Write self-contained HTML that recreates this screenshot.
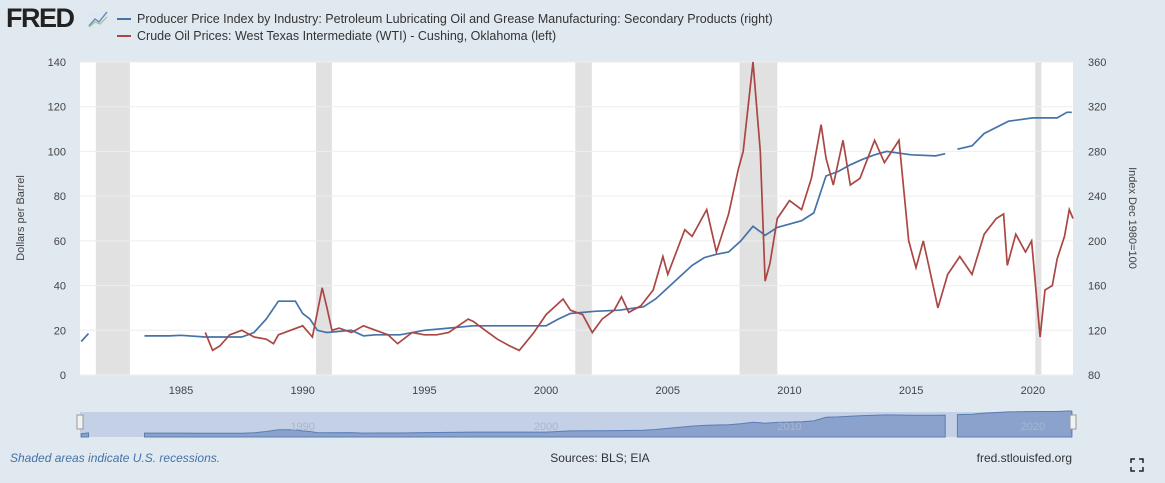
<!DOCTYPE html>
<html><head><meta charset="utf-8"><style>
body{margin:0;background:#e1e9f0;font-family:"Liberation Sans",sans-serif;}
svg{display:block}
text{font-family:"Liberation Sans",sans-serif;}
</style></head><body>
<svg id="c" width="1165" height="483">
<rect width="1165" height="483" fill="#e1e9f0"/>
<text x="6" y="27" font-size="27" font-weight="bold" fill="#222" letter-spacing="-1.5">FRED</text>
<g><rect x="88" y="11" width="20" height="17" fill="#dfe8f0"/><polyline points="89,26 95,19 99,22 107,12" fill="none" stroke="#6a8fc0" stroke-width="1.5"/><polyline points="89,27 95,22 100,24 107,17" fill="none" stroke="#9cc38c" stroke-width="1.2"/></g>
<line x1="117" y1="19" x2="131" y2="19" stroke="#4572a7" stroke-width="2"/>
<text x="137" y="23" font-size="12.5" fill="#333">Producer Price Index by Industry: Petroleum Lubricating Oil and Grease Manufacturing: Secondary Products (right)</text>
<line x1="117" y1="36" x2="131" y2="36" stroke="#aa4643" stroke-width="2"/>
<text x="137" y="40" font-size="12.5" fill="#333">Crude Oil Prices: West Texas Intermediate (WTI) - Cushing, Oklahoma (left)</text>
<rect x="80" y="62" width="993" height="313" fill="#fff"/>
<g id="rec"></g>
<g id="grid"></g>
<g id="axes"></g>
<g id="series"></g>
<text transform="translate(24,218) rotate(-90)" text-anchor="middle" font-size="11" fill="#444">Dollars per Barrel</text>
<text transform="translate(1129,218) rotate(90)" text-anchor="middle" font-size="11" fill="#444">Index Dec 1980=100</text>
<g id="nav"></g>
<text x="10" y="462" font-size="12" font-style="italic" fill="#4572a7">Shaded areas indicate U.S. recessions.</text>
<text x="600" y="462" font-size="12" fill="#333" text-anchor="middle">Sources: BLS; EIA</text>
<text x="1072" y="462" font-size="12" fill="#333" text-anchor="end">fred.stlouisfed.org</text>
<g stroke="#222" stroke-width="1.5" fill="none"><path d="M1131,463v-4h4M1139,459h4v4M1143,467v4h-4M1135,471h-4v-4"/></g>
</svg>
<script>
const leftTicks=[0,20,40,60,80,100,120,140];
const rightTicks=[80,120,160,200,240,280,320,360];
const yearTicks=[1985,1990,1995,2000,2005,2010,2015,2020];
const recessions=[[1981.5,1982.9],[1990.55,1991.2],[2001.2,2001.88],[2007.95,2009.5],[2020.1,2020.35]];
const wtiT=[1986.0,1986.3,1986.6,1987.0,1987.5,1988.0,1988.5,1988.8,1989.0,1989.5,1990.0,1990.4,1990.8,1991.0,1991.2,1991.5,1992.0,1992.5,1993.0,1993.5,1993.9,1994.5,1995.0,1995.5,1996.0,1996.8,1997.0,1997.5,1998.0,1998.5,1998.9,1999.5,2000.0,2000.7,2001.0,2001.5,2001.9,2002.3,2002.8,2003.1,2003.4,2003.9,2004.4,2004.8,2005.0,2005.7,2006.0,2006.6,2007.0,2007.5,2007.9,2008.1,2008.5,2008.8,2009.0,2009.2,2009.5,2010.0,2010.5,2010.9,2011.3,2011.5,2011.8,2012.2,2012.5,2012.9,2013.5,2013.9,2014.5,2014.9,2015.2,2015.5,2015.9,2016.1,2016.5,2017.0,2017.5,2018.0,2018.5,2018.8,2018.95,2019.3,2019.7,2019.95,2020.3,2020.5,2020.8,2021.0,2021.3,2021.5,2021.65];
const wtiV=[19,11,13,18,20,17,16,14,18,20,22,17,39,30,20,21,19,22,20,18,14,19,18,18,19,25,24,20,16,13,11,19,27,34,29,27,19,25,29,35,28,31,38,53,45,65,62,74,55,72,92,100,140,100,42,50,70,78,74,88,112,97,85,105,85,88,105,95,105,60,48,60,40,30,45,53,45,63,70,72,49,63,55,60,17,38,40,52,62,74,70];
const ppiT=[1980.9,1981.2,null,1983.5,1984.5,1985.0,1986.0,1987.5,1988.0,1988.5,1989.0,1989.7,1990.0,1990.3,1990.6,1991.0,1992.0,1992.5,1993.0,1994.0,1995.0,1996.0,1997.0,1998.0,1999.0,2000.0,2000.5,2001.0,2002.0,2003.0,2004.0,2004.5,2005.0,2005.5,2006.0,2006.5,2007.0,2007.5,2008.0,2008.5,2009.0,2009.5,2010.0,2010.5,2011.0,2011.5,2012.0,2012.5,2013.0,2013.5,2014.0,2015.0,2016.0,2016.4,null,2016.9,2017.5,2018.0,2019.0,2020.0,2021.0,2021.4,2021.6];
const ppiV=[110,117,null,115,115,115.5,114,114,118,130,146,146,135,130,120,118,120,115,116,116,120,122,124,124,124,124,130,135,137,138,141,148,158,168,178,185,188,190,200,213,205,212,215,218,225,258,262,268,273,277,280,277,276,278,null,282,285,296,307,310,310,315,315];
const X0=80,X1=1073,T0=1980.85,T1=2021.65,Y0=375,Y1=62;
const x=t=>X0+(t-T0)/(T1-T0)*(X1-X0);
const yl=v=>Y0-v/140*(Y0-Y1);
const yr=v=>Y0-(v-80)/280*(Y0-Y1);
const NS='http://www.w3.org/2000/svg';
function mk(tag,parent,attrs){const e=document.createElementNS(NS,tag);for(const k in attrs)e.setAttribute(k,attrs[k]);document.getElementById(parent).appendChild(e);return e;}
recessions.forEach(r=>{const e=mk('rect','rec',{x:x(r[0]),y:Y1,width:x(r[1])-x(r[0]),height:Y0-Y1,fill:'#e1e1e1'});

});
leftTicks.forEach((v,i)=>{const g=mk('line','grid',{x1:X0,x2:X1,y1:yl(v),y2:yl(v),stroke:'#eeeeee'});


const t=mk('text','axes',{x:66,y:yl(v)+4,'font-size':11,fill:'#444','text-anchor':'end'});t.textContent=v;


const r=mk('text','axes',{x:1088,y:yr(rightTicks[i])+4,'font-size':11,fill:'#444'});r.textContent=rightTicks[i];

});
yearTicks.forEach(yr_=>{const t=mk('text','axes',{x:x(yr_),y:394,'font-size':11,fill:'#444','text-anchor':'middle'});t.textContent=yr_;

});
function path(T,V,fy){let d='',pen=false;T.forEach((t,i)=>{if(t===null||V[i]===null){pen=false;return;}d+=(pen?'L':'M')+x(t).toFixed(1)+','+fy(V[i]).toFixed(1);pen=true;});return d;}
const pb=mk('path','series',{d:path(ppiT,ppiV,yr),fill:'none',stroke:'#4572a7','stroke-width':1.7});


const pw=mk('path','series',{d:path(wtiT,wtiV,yl),fill:'none',stroke:'#aa4643','stroke-width':1.7});


const NY0=437,NY1=412;
const nb=mk('rect','nav',{x:X0,y:NY1,width:X1-X0,height:NY0-NY1,fill:'#c3d0e6'});


const ny=v=>NY0-(v-80)/280*(NY0-NY1+6);
let segs=[],cur=[];ppiT.forEach((t,i)=>{if(t===null){segs.push(cur);cur=[];}else cur.push([x(t),ny(ppiV[i])]);});segs.push(cur);
segs.forEach(s=>{if(s.length<2)return;let d='M'+s[0][0]+','+NY0+s.map(p=>'L'+p[0].toFixed(1)+','+p[1].toFixed(1)).join('')+'L'+s[s.length-1][0]+','+NY0+'Z';
const a=mk('path','nav',{d:d,fill:'#8aa2cc',stroke:'#5a7db5','stroke-width':1});

});
[1990,2000,2010,2020].forEach(yy=>{const t=mk('text','nav',{x:x(yy),y:430,'font-size':11,fill:'#a9b6cc','text-anchor':'middle'});t.textContent=yy;

});
[X0-3,X1-3].forEach(hx=>{const h=mk('rect','nav',{x:hx,y:415,width:6,height:14,fill:'#f2f2f2',stroke:'#999'});

});
</script>
</body></html>
